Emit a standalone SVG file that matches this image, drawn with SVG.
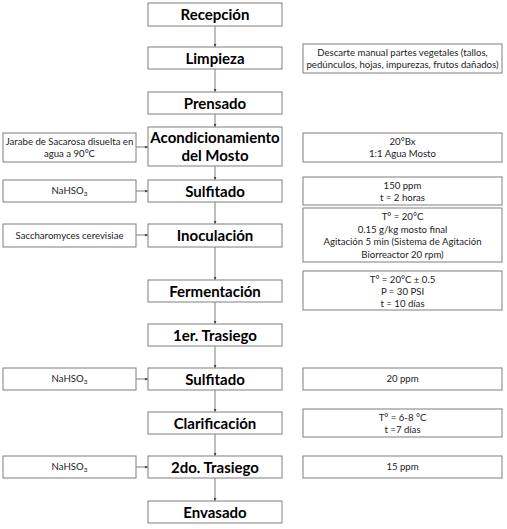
<svg xmlns="http://www.w3.org/2000/svg" width="507" height="529" viewBox="0 0 507 529">
<style>
rect{fill:#fff;stroke:#7f7f7f;stroke-width:1}
.m{font-family:Lato,"Open Sans",sans-serif;font-weight:bold;font-size:15px;fill:#000;text-anchor:middle}
.s{font-family:Lato,"Open Sans",sans-serif;font-size:9.6px;fill:#222;text-anchor:middle}
.c line{stroke:#7f7f7f;stroke-width:1;marker-end:url(#a)}
</style>
<defs>
<marker id="a" viewBox="0 0 6 6" refX="6" refY="3" markerWidth="3" markerHeight="3" orient="auto" markerUnits="strokeWidth"><path d="M0,0L6,3L0,6z" fill="#444"/></marker>
</defs>
<rect width="507" height="529" style="stroke:none"/>
<g class="c">
<line x1="215" y1="26" x2="215" y2="47"/>
<line x1="215" y1="69" x2="215" y2="92"/>
<line x1="215" y1="114" x2="215" y2="127"/>
<line x1="215" y1="166" x2="215" y2="180"/>
<line x1="215" y1="202" x2="215" y2="224"/>
<line x1="215" y1="247" x2="215" y2="280"/>
<line x1="215" y1="302" x2="215" y2="324"/>
<line x1="215" y1="346" x2="215" y2="368"/>
<line x1="215" y1="390" x2="215" y2="412"/>
<line x1="215" y1="434" x2="215" y2="456"/>
<line x1="215" y1="478" x2="215" y2="501"/>
<line x1="136" y1="147" x2="148" y2="147"/>
<line x1="136" y1="191" x2="148" y2="191"/>
<line x1="136" y1="235" x2="148" y2="235"/>
<line x1="136" y1="379" x2="148" y2="379"/>
<line x1="136" y1="467" x2="148" y2="467"/>
</g>
<g id="recepcion"><rect x="148" y="3" width="134" height="23"/><text class="m" x="215" y="20">Recepción</text></g>
<g id="limpieza"><rect x="148" y="47" width="134" height="22"/><text class="m" x="215" y="63.5">Limpieza</text></g>
<g id="prensado"><rect x="148" y="92" width="134" height="22"/><text class="m" x="215" y="108.5">Prensado</text></g>
<g id="acondicionamiento"><rect x="148" y="127" width="134" height="39"/><text class="m" x="215" y="143">Acondicionamiento</text><text class="m" x="215" y="161">del Mosto</text></g>
<g id="sulfitado1"><rect x="148" y="180" width="134" height="22"/><text class="m" x="215" y="196.5">Sulfitado</text></g>
<g id="inoculacion"><rect x="148" y="224" width="134" height="23"/><text class="m" x="215" y="241">Inoculación</text></g>
<g id="fermentacion"><rect x="148" y="280" width="134" height="22"/><text class="m" x="215" y="296.5">Fermentación</text></g>
<g id="trasiego1"><rect x="148" y="324" width="134" height="22"/><text class="m" x="215" y="340.5">1er. Trasiego</text></g>
<g id="sulfitado2"><rect x="148" y="368" width="134" height="22"/><text class="m" x="215" y="384.5">Sulfitado</text></g>
<g id="clarificacion"><rect x="148" y="412" width="134" height="22"/><text class="m" x="215" y="428.5">Clarificación</text></g>
<g id="trasiego2"><rect x="148" y="456" width="134" height="22"/><text class="m" x="215" y="472.5">2do. Trasiego</text></g>
<g id="envasado"><rect x="148" y="501" width="134" height="22"/><text class="m" x="215" y="517.5">Envasado</text></g>

<g id="jarabe"><rect x="3" y="133" width="133" height="29"/><text class="s" x="69.5" y="145">Jarabe de Sacarosa disuelta en</text><text class="s" x="69.5" y="157">agua a 90°C</text></g>
<g id="nahso3-1"><rect x="3" y="180" width="133" height="22"/><text class="s" x="69.5" y="194">NaHSO<tspan font-size="6.5" dy="2">3</tspan></text></g>
<g id="saccharomyces"><rect x="3" y="224" width="133" height="23"/><text class="s" x="69.5" y="238.5">Saccharomyces cerevisiae</text></g>
<g id="nahso3-2"><rect x="3" y="368" width="133" height="22"/><text class="s" x="69.5" y="382">NaHSO<tspan font-size="6.5" dy="2">3</tspan></text></g>
<g id="nahso3-3"><rect x="3" y="456" width="133" height="22"/><text class="s" x="69.5" y="470">NaHSO<tspan font-size="6.5" dy="2">3</tspan></text></g>

<g id="descarte"><rect x="303" y="44" width="199" height="29"/><text class="s" x="402.5" y="56">Descarte manual partes vegetales (tallos,</text><text class="s" x="402.5" y="68">pedúnculos, hojas, impurezas, frutos dañados)</text></g>
<g id="bx"><rect x="303" y="133" width="199" height="29"/><text class="s" x="402.5" y="145">20°Bx</text><text class="s" x="402.5" y="157">1:1 Agua Mosto</text></g>
<g id="ppm150"><rect x="303" y="177" width="199" height="28"/><text class="s" x="402.5" y="189">150 ppm</text><text class="s" x="402.5" y="201">t = 2 horas</text></g>
<g id="inoc-cond"><rect x="303" y="208" width="199" height="54"/><text class="s" x="402.5" y="220">T° = 20°C</text><text class="s" x="402.5" y="232.5">0.15 g/kg mosto final</text><text class="s" x="402.5" y="245">Agitación 5 min (Sistema de Agitación</text><text class="s" x="402.5" y="257.5">Biorreactor 20 rpm)</text></g>
<g id="ferm-cond"><rect x="303" y="271" width="199" height="39"/><text class="s" x="402.5" y="282.5">T° = 20°C ± 0.5</text><text class="s" x="402.5" y="294.5">P = 30 PSI</text><text class="s" x="402.5" y="306.5">t = 10 días</text></g>
<g id="ppm20"><rect x="303" y="368" width="199" height="22"/><text class="s" x="402.5" y="382">20 ppm</text></g>
<g id="clar-cond"><rect x="303" y="409" width="199" height="28"/><text class="s" x="402.5" y="421">T° = 6-8 °C</text><text class="s" x="402.5" y="433">t =7 días</text></g>
<g id="ppm15"><rect x="303" y="456" width="199" height="22"/><text class="s" x="402.5" y="470">15 ppm</text></g>
</svg>
